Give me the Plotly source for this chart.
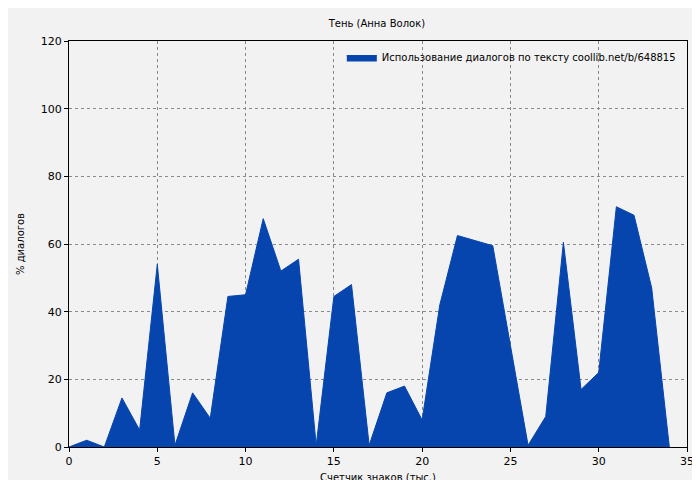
import plotly.graph_objects as go

x_vals = list(range(35))
y_vals = [0, 2, 0, 14.5, 5, 54, 0.5, 16, 8.5, 44.5, 45, 67.5, 52, 55.5, 0.5, 44.5, 48, 0.5,
          16, 18, 8, 42, 62.5, 61, 59.5, 30, 0.5, 9, 60.5, 17, 22, 71, 68.5, 47, 0]

title = "Тень (Анна Волок)"
series_name = "Использование диалогов по тексту coollib.net/b/648815"

fig = go.Figure()
fig.add_trace(go.Scatter(x=x_vals, y=y_vals, mode="lines", fill="tozeroy",
                         line=dict(color="#0645ad", width=1), fillcolor="#0645ad",
                         name=series_name, showlegend=True))
axis = dict(showgrid=True, gridcolor="#888", griddash="dot", gridwidth=1,
            showline=True, linecolor="black", mirror=True, ticks="outside",
            ticklen=4, tickcolor="black", zeroline=False, automargin=False,
            tickfont=dict(size=11))
fig.update_layout(
    width=700, height=480,
    paper_bgcolor="#f2f2f2", plot_bgcolor="#f2f2f2",
    font=dict(family="DejaVu Sans", size=10, color="black"),
    title=dict(text=title, x=0.527, y=0.975, xanchor="center", font=dict(size=10)),
    margin=dict(l=61, r=21, t=33, b=41, autoexpand=False),
    xaxis=dict(axis, range=[0, 35], dtick=5,
               title=dict(text="Счетчик знаков (тыс.)", standoff=6, font=dict(size=10))),
    yaxis=dict(axis, range=[0, 120], dtick=20,
               title=dict(text="% диалогов", standoff=14, font=dict(size=10))),
    legend=dict(x=0.99, y=0.995, xanchor="right", yanchor="top",
                bgcolor="rgba(0,0,0,0)", font=dict(size=10)),
)
fig.write_html("out.html")
